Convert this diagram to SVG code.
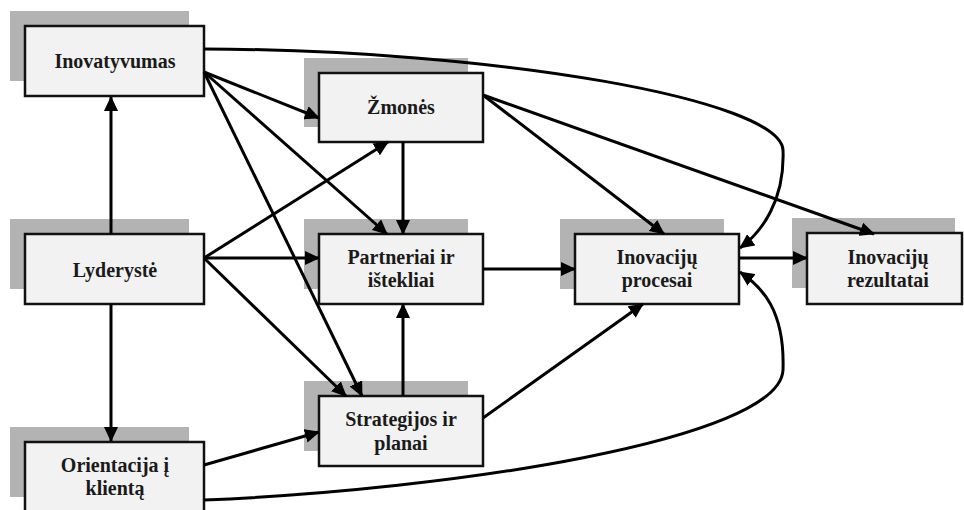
<svg xmlns="http://www.w3.org/2000/svg" width="964" height="510" viewBox="0 0 964 510">
<style>
.sh{fill:#b3b3b3}
.bx{fill:#f2f2f2;stroke:#111;stroke-width:2.5}
.t{font-family:'Liberation Serif','Times New Roman',Tinos,'DejaVu Serif',serif;font-weight:bold;font-size:20px;fill:#1a1a1a;text-anchor:middle}
.c{fill:none;stroke:#000;stroke-width:3;marker-end:url(#ah)}
</style>
<defs>
<marker id="ah" markerUnits="userSpaceOnUse" markerWidth="15" markerHeight="14" refX="14" refY="7" orient="auto">
<path d="M0,0 L15,7 L0,14 z" fill="#000"/>
</marker>
</defs>
<rect width="964" height="510" fill="#fff"/>
<g id="inovatyvumas">
<rect class="sh" x="10" y="11" width="179" height="70"/>
<rect class="bx" x="25" y="26" width="179" height="70"/>
<text class="t" font-family="Liberation Serif, serif" x="115" y="68">Inovatyvumas</text>
</g>
<g id="lyderyste">
<rect class="sh" x="10" y="219" width="179" height="70"/>
<rect class="bx" x="25" y="234" width="179" height="70"/>
<text class="t" font-family="Liberation Serif, serif" x="115" y="277">Lyderystė</text>
</g>
<g id="orientacija">
<rect class="sh" x="10" y="427" width="179" height="70"/>
<rect class="bx" x="25" y="442" width="179" height="70"/>
<text class="t" font-family="Liberation Serif, serif" x="115" y="472">Orientacija į</text>
<text class="t" font-family="Liberation Serif, serif" x="115" y="495">klientą</text>
</g>
<g id="zmones">
<rect class="sh" x="304" y="58" width="164" height="69"/>
<rect class="bx" x="319" y="73" width="164" height="69"/>
<text class="t" font-family="Liberation Serif, serif" x="401" y="114">Žmonės</text>
</g>
<g id="partneriai">
<rect class="sh" x="304" y="219" width="164" height="70"/>
<rect class="bx" x="319" y="234" width="164" height="70"/>
<text class="t" font-family="Liberation Serif, serif" x="401" y="264">Partneriai ir</text>
<text class="t" font-family="Liberation Serif, serif" x="401" y="287">ištekliai</text>
</g>
<g id="strategijos">
<rect class="sh" x="304" y="381" width="164" height="70"/>
<rect class="bx" x="319" y="396" width="164" height="70"/>
<text class="t" font-family="Liberation Serif, serif" x="401" y="426">Strategijos ir</text>
<text class="t" font-family="Liberation Serif, serif" x="401" y="450">planai</text>
</g>
<g id="procesai">
<rect class="sh" x="560" y="219" width="164" height="70"/>
<rect class="bx" x="575" y="234" width="164" height="70"/>
<text class="t" font-family="Liberation Serif, serif" x="657" y="264">Inovacijų</text>
<text class="t" font-family="Liberation Serif, serif" x="657" y="287">procesai</text>
</g>
<g id="rezultatai">
<rect class="sh" x="792" y="218" width="163" height="70"/>
<rect class="bx" x="807" y="233" width="155" height="71"/>
<text class="t" font-family="Liberation Serif, serif" x="888" y="264">Inovacijų</text>
<text class="t" font-family="Liberation Serif, serif" x="888" y="287">rezultatai</text>
</g>
<g id="connectors">
<path class="c" d="M111,234 L111,97"/>
<path class="c" d="M111,304 L111,441"/>
<path class="c" d="M204,258 L319,258"/>
<path class="c" d="M204,258 L388,142"/>
<path class="c" d="M204,258 L346,396"/>
<path class="c" d="M204,72 L319,118"/>
<path class="c" d="M204,72 L387,234"/>
<path class="c" d="M204,72 L362,396"/>
<path class="c" d="M204,49 C500,50 780,100 783,150 C785,200 762,232 740,248"/>
<path class="c" d="M403,142 L403,234"/>
<path class="c" d="M483,95 L664,234"/>
<path class="c" d="M483,95 L874,234"/>
<path class="c" d="M483,269 L575,269"/>
<path class="c" d="M403,396 L403,304"/>
<path class="c" d="M483,418 L643,304"/>
<path class="c" d="M204,465 L319,432"/>
<path class="c" d="M204,500 C450,490 780,440 783,370 C785,310 762,287 740,272"/>
<path class="c" d="M739,258 L807,258"/>
</g>
</svg>
